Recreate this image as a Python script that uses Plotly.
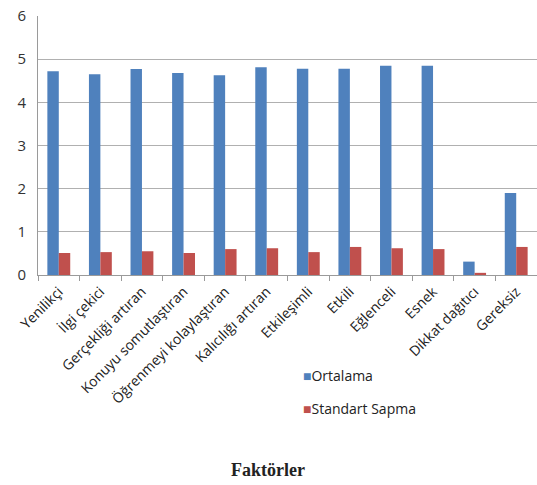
import plotly.graph_objects as go

categories = ["Yenilikçi", "İlgi çekici", "Gerçekliği artıran", "Konuyu somutlaştıran",
              "Öğrenmeyi kolaylaştıran", "Kalıcılığı artıran", "Etkileşimli", "Etkili",
              "Eğlenceli", "Esnek", "Dikkat dağıtıcı", "Gereksiz"]
ortalama = [4.72, 4.65, 4.77, 4.68, 4.63, 4.81, 4.78, 4.78, 4.85, 4.85, 0.31, 1.90]
standart_sapma = [0.51, 0.53, 0.55, 0.51, 0.60, 0.62, 0.53, 0.65, 0.62, 0.60, 0.05, 0.65]
y_ticks = [0, 1, 2, 3, 4, 5, 6]
series_names = ["Ortalama", "Standart Sapma"]
series_colors = ["#4F81BD", "#C0504D"]

W, H = 537, 485
L, R, T, B = 38, 0, 16, 210
plot_h = H - T - B
plot_w = W - L - R

fig = go.Figure()
for name, values, color in zip(series_names, [ortalama, standart_sapma], series_colors):
    fig.add_trace(go.Bar(x=categories, y=values, name=name,
                         marker=dict(color=color, line=dict(width=0))))

fig.update_layout(
    width=W, height=H,
    margin=dict(l=L, r=R, t=T, b=B, autoexpand=False),
    paper_bgcolor="white", plot_bgcolor="white",
    barmode="group", bargap=0.45, bargroupgap=0,
    font=dict(family="Open Sans", color="#333333"),
    showlegend=False,
)
fig.update_xaxes(
    tickangle=-45, tickfont=dict(size=14, color="#222222"),
    showline=True, linecolor="#9a9a9a", linewidth=1,
    ticks="outside", tickson="boundaries", ticklen=5, tickcolor="#9a9a9a",
    showgrid=False, ticklabelstandoff=2,
)
fig.update_yaxes(
    range=[0, 6], tickvals=y_ticks, tickfont=dict(size=15, color="#333333"),
    showgrid=True, gridcolor="#b0b0b0", gridwidth=1.3,
    showline=True, linecolor="#9a9a9a", linewidth=1,
    ticks="", zeroline=False, ticklabelstandoff=8,
)

# legend entries: colored square followed by the series name
legend_rows = [376, 408]
for name, color, row in zip(series_names, series_colors, legend_rows):
    fig.add_annotation(
        text=f"<span style='color:{color}'>■</span>{name}",
        xref="paper", yref="paper",
        x=(301 - L) / plot_w, y=(H - B - row) / plot_h,
        xanchor="left", yanchor="middle", showarrow=False,
        font=dict(family="Open Sans", size=14, color="#222222"))

# axis title drawn as a bold serif caption below the chart
fig.add_annotation(text="<b>Faktörler</b>", xref="paper", yref="paper",
                   x=(268 - L) / plot_w, y=(H - B - 470) / plot_h,
                   xanchor="center", yanchor="middle", showarrow=False,
                   font=dict(family="Liberation Serif", size=18, color="#222222"))

fig.write_html("out.html")
